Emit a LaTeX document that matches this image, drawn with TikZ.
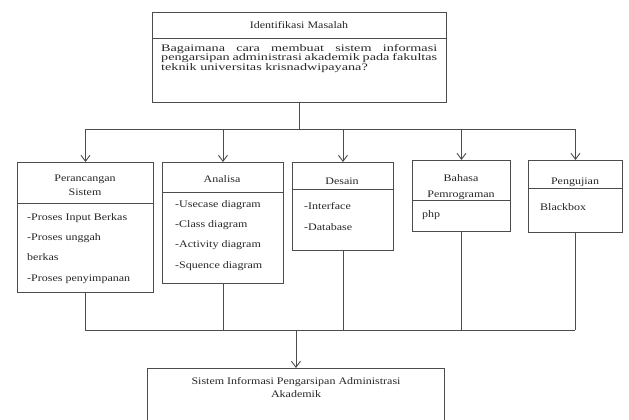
\documentclass[tikz,border=0pt]{standalone}
\usepackage{fontspec}
\setmainfont{Liberation Serif}[FakeStretch=1.2]
\newfontfamily\lebar{Liberation Serif}[FakeStretch=1.42]
\usetikzlibrary{arrows.meta}
\colorlet{garis}{black!70}

\begin{document}
\begin{tikzpicture}[x=1pt,y=-1pt,>={Straight Barb[length=6pt,width=9pt]},
  kotak/.style={draw=garis,line width=0.9pt,inner sep=0pt,anchor=north west},
  teks/.style={inner sep=0pt,text=black!85,font=\fontsize{10}{14}\selectfont,align=center},
  isi/.style={inner sep=0pt,text=black!85,anchor=north west,align=left,font=\fontsize{10}{20.3}\selectfont},
  hubung/.style={draw=garis,line width=0.9pt}]
\useasboundingbox (0,0) rectangle (629,420);
\node[kotak,minimum width=294pt,minimum height=90pt] (masalah) at (152,12) {};
\draw[hubung] ([yshift=-26pt]masalah.north west) -- ([yshift=-26pt]masalah.north east);
\node[teks] (judul) at (299,25) {Identifikasi Masalah};
\node[isi,text width=276pt,align=justify,font=\lebar\fontsize{10}{9.6}\selectfont] (tanya) at (161,44)
  {Bagaimana cara membuat sistem informasi\linebreak pengarsipan administrasi akademik pada fakultas\linebreak teknik universitas krisnadwipayana?};

\node[kotak,minimum width=136pt,minimum height=130pt] (rancang) at (17,162) {};
\draw[hubung] ([yshift=-41pt]rancang.north west) -- ([yshift=-41pt]rancang.north east);
\node[teks] (rancangjudul) at (85,185) {Perancangan\\Sistem};
\node[isi] (rancangisi) at (27,213) {-Proses Input Berkas\\-Proses unggah\\berkas\\-Proses penyimpanan};

\node[kotak,minimum width=121pt,minimum height=121pt] (analisa) at (162,162) {};
\draw[hubung] ([yshift=-30pt]analisa.north west) -- ([yshift=-30pt]analisa.north east);
\node[teks] (analisajudul) at (222,179) {Analisa};
\node[isi] (analisaisi) at (175,200) {-Usecase diagram\\-Class diagram\\-Activity diagram\\-Squence diagram};

\node[kotak,minimum width=101pt,minimum height=88pt] (desain) at (292,162) {};
\draw[hubung] ([yshift=-27pt]desain.north west) -- ([yshift=-27pt]desain.north east);
\node[teks] (desainjudul) at (342,181) {Desain};
\node[isi,font=\fontsize{10}{21}\selectfont] (desainisi) at (304,202) {-Interface\\-Database};

\node[kotak,minimum width=98pt,minimum height=71pt] (bahasa) at (412,160) {};
\draw[hubung] ([yshift=-40pt]bahasa.north west) -- ([yshift=-40pt]bahasa.north east);
\node[teks,font=\fontsize{10}{16}\selectfont] (bahasajudul) at (461,187) {Bahasa\\Pemrograman};
\node[isi] (bahasaisi) at (422,210) {php};

\node[kotak,minimum width=94pt,minimum height=72pt] (uji) at (528,160) {};
\draw[hubung] ([yshift=-28pt]uji.north west) -- ([yshift=-28pt]uji.north east);
\node[teks] (ujijudul) at (575,182) {Pengujian};
\node[isi] (ujiisi) at (540,203) {Blackbox};

\node[kotak,minimum width=297pt,minimum height=62pt] (hasil) at (147,368) {};
\node[teks,font=\fontsize{10}{13}\selectfont] (hasiljudul) at (296,388) {Sistem Informasi Pengarsipan Administrasi\\Akademik};

\coordinate (cabang) at (294,129);
\coordinate (gabung) at (295,330);
\draw[hubung] (masalah.south) -- (masalah.south |- cabang);
\draw[hubung] (rancang.north |- cabang) -- (uji.north |- cabang);
\foreach \b in {rancang,analisa,desain,bahasa,uji}
  \draw[hubung,->] (\b.north |- cabang) -- (\b.north);
\foreach \b in {rancang,analisa,desain,bahasa,uji}
  \draw[hubung] (\b.south) -- (\b.south |- gabung);
\draw[hubung] (rancang.south |- gabung) -- (uji.south |- gabung);
\draw[hubung,->] (hasil.north |- gabung) -- (hasil.north);
\end{tikzpicture}
\end{document}
